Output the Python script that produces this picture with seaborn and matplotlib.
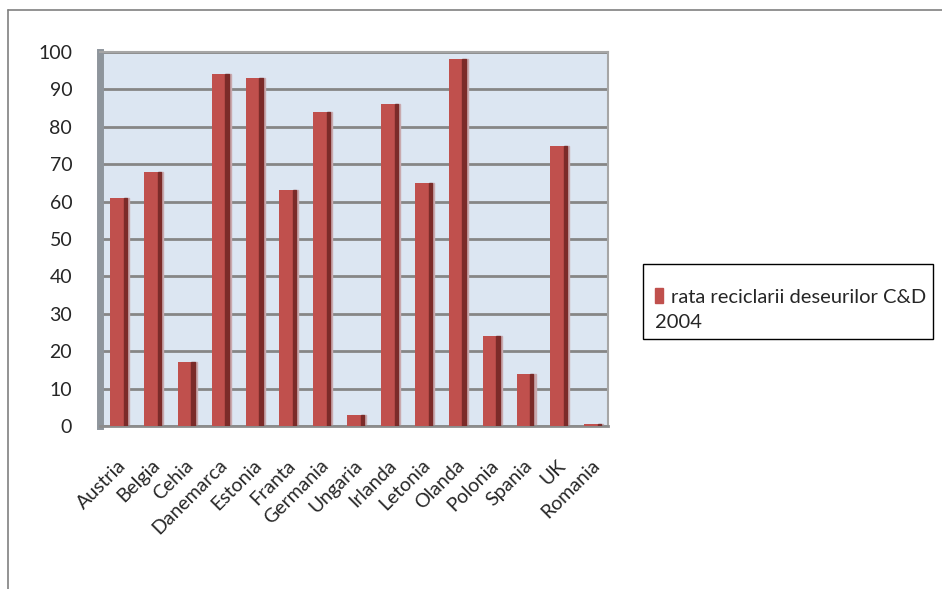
import matplotlib.pyplot as plt
import seaborn as sns
import pandas as pd
from matplotlib.patches import Rectangle
from matplotlib.lines import Line2D

countries = ["Austria", "Belgia", "Cehia", "Danemarca", "Estonia", "Franta",
             "Germania", "Ungaria", "Irlanda", "Letonia", "Olanda", "Polonia",
             "Spania", "UK", "Romania"]
rates = [61, 68, 17, 94, 93, 63, 84, 3, 86, 65, 98, 24, 14, 75, 0.5]
legend_line1 = "rata reciclarii deseurilor C&D"
legend_line2 = "2004"

df = pd.DataFrame({"Tara": countries, "Rata": rates})

sns.set_style("white")
plt.rcParams['font.family'] = ['Lato', 'DejaVu Sans']

fig = plt.figure(figsize=(9.42, 5.89), dpi=100)
ax = fig.add_axes([100 / 942, 1 - 426 / 589, 508 / 942, 374 / 589])
ax.set_facecolor("#DCE6F2")

sns.barplot(data=df, x="Tara", y="Rata", color="#C0504D", width=0.4,
            saturation=1, linewidth=0, ax=ax, zorder=3)

# darker side face on each bar for the 3D look
for p in list(ax.patches):
    x, w, h = p.get_x(), p.get_width(), p.get_height()
    ax.add_patch(Rectangle((x + w, 0), w * 0.25, h, color="#7B2B29", zorder=3))
    ax.add_patch(Rectangle((x + w * 1.25, 0), w * 0.15, h, color="#C9A9AE",
                           zorder=2.5))

ax.set_ylim(0, 100)
ax.set_xlim(-0.5, len(countries) - 0.5)
ax.set_yticks(range(0, 101, 10))
ax.yaxis.grid(True, color="#868686", linewidth=2, zorder=0)
ax.set_axisbelow(True)
ax.set_xlabel("")
ax.set_ylabel("")
for s in ["top", "right"]:
    ax.spines[s].set_color("#A6A6A6")
    ax.spines[s].set_linewidth(1.5)
ax.spines["left"].set_color("#8E959C")
ax.spines["left"].set_linewidth(5)
ax.spines["bottom"].set_color("#8C8C8C")
ax.spines["bottom"].set_linewidth(2)

ax.tick_params(axis="y", labelsize=14, length=6, width=1.2, color="#8C8C8C",
               pad=14)
ax.set_xticks(range(len(countries)))
ax.set_xticklabels(countries, rotation=45, ha="right", rotation_mode="anchor",
                   fontsize=14)
ax.tick_params(axis="x", which="major", length=0, pad=22)
ax.set_xticks([i - 0.5 for i in range(len(countries) + 1)], minor=True)
ax.tick_params(axis="x", which="minor", length=6, width=1.2, color="#8C8C8C")

# outer chart border
fig.add_artist(Line2D([8 / 942, 1.0], [1 - 10 / 589, 1 - 10 / 589],
                      transform=fig.transFigure, color="#808080", linewidth=1.2))
fig.add_artist(Line2D([8 / 942, 8 / 942], [0, 1 - 10 / 589],
                      transform=fig.transFigure, color="#808080", linewidth=1.2))

# legend
fig.add_artist(Rectangle((643 / 942, 1 - 339 / 589), 290 / 942, 75 / 589,
                         transform=fig.transFigure, fill=False,
                         edgecolor="black", linewidth=1))
fig.add_artist(Rectangle((655 / 942, 1 - 303 / 589), 8 / 942, 15 / 589,
                         transform=fig.transFigure, color="#C0504D"))
fig.text(671 / 942, 1 - 303 / 589, legend_line1, fontsize=14.5,
         va="baseline", ha="left")
fig.text(655 / 942, 1 - 328 / 589, legend_line2, fontsize=14.5,
         va="baseline", ha="left")

plt.savefig("out.png", dpi=100)
